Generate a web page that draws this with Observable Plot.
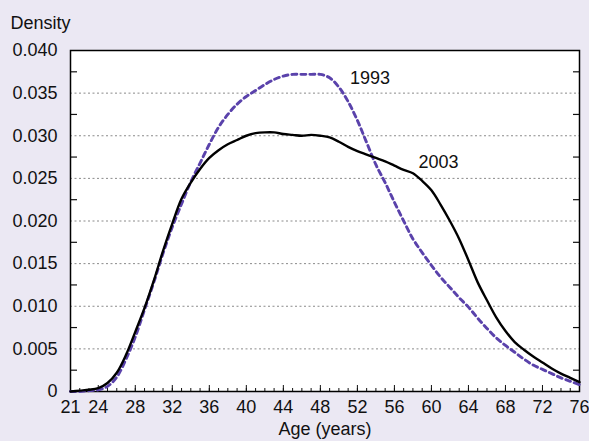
<!DOCTYPE html>
<html>
<head>
<meta charset="utf-8">
<script src="https://cdn.jsdelivr.net/npm/d3@7"></script>
<script src="https://cdn.jsdelivr.net/npm/@observablehq/plot@0.6"></script>
<style>
  html, body { margin: 0; padding: 0; background: #ebe8f3; }
</style>
</head>
<body>
<div id="chart"></div>
<script>
const ages = [21,22,23,24,25,26,27,28,29,30,31,32,33,34,35,36,37,38,39,40,41,42,43,44,45,46,47,48,
  49,50,51,52,53,54,55,56,57,58,59,60,61,62,63,64,65,66,67,68,69,70,71,72,73,74,75,76];

const density1993 = [0,0,0.0001,0.0002,0.0006,0.0017,0.0038,0.0064,0.0096,0.0128,0.0162,0.0193,0.0220,0.0246,
  0.0268,0.0290,0.0310,0.0325,0.0337,0.0346,0.0353,0.0360,0.0366,0.0370,0.0372,0.0372,0.0372,0.0372,
  0.0368,0.0357,0.0340,0.0318,0.0292,0.0266,0.0245,0.0222,0.0200,0.0179,0.0163,0.0148,0.0134,0.0122,
  0.0110,0.0099,0.0086,0.0074,0.0063,0.0054,0.0046,0.0038,0.0031,0.0026,0.0021,0.0016,0.0012,0.0008];

const density2003 = [0,0.0001,0.0002,0.0004,0.0010,0.0022,0.0043,0.0070,0.0098,0.0130,0.0165,0.0197,0.0226,0.0245,
  0.0261,0.0274,0.0283,0.0290,0.0295,0.0300,0.0303,0.0304,0.0304,0.0302,0.0301,0.0300,0.0301,0.0300,
  0.0298,0.0293,0.0287,0.0282,0.0278,0.0274,0.0270,0.0265,0.0260,0.0256,0.0247,0.0236,0.0219,0.0200,
  0.0179,0.0154,0.0128,0.0107,0.0087,0.0071,0.0058,0.0049,0.0041,0.0034,0.0027,0.0021,0.0016,0.0011];

const xTickLabels = [21,24,28,32,36,40,44,48,52,56,60,64,68,72,76];
const yTickLabels = [0,0.005,0.010,0.015,0.020,0.025,0.030,0.035,0.040];
const yGridValues = [0.005,0.010,0.015,0.020,0.025,0.030,0.035];
const yMinorTicks = [0.0025,0.0075,0.0125,0.0175,0.0225,0.0275,0.0325,0.0375];

const seriesLabels = [
  {label: "1993", age: 51.2, value: 0.0367},
  {label: "2003", age: 58.6, value: 0.0269}
];

const s1993 = ages.map((a, i) => ({age: a, value: density1993[i]}));
const s2003 = ages.map((a, i) => ({age: a, value: density2003[i]}));

const fmtY = d => d === 0 ? "0" : d3.format(".3f")(d);

const chart = Plot.plot({
  width: 589,
  height: 441,
  marginTop: 50,
  marginRight: 10,
  marginBottom: 50,
  marginLeft: 70,
  style: {background: "#ebe8f3", fontFamily: "'Liberation Sans', Arial, Helvetica, sans-serif", fontSize: "18px", color: "#111"},
  x: {domain: [21, 76]},
  y: {domain: [0, 0.04]},
  marks: [
    Plot.frame({fill: "white", stroke: "none"}),
    Plot.gridY(yGridValues, {stroke: "#8a8a8a", strokeOpacity: 1, strokeDasharray: "2,2.5", strokeWidth: 1}),
    Plot.axisY(yMinorTicks, {anchor: "left", tickSize: -7, tickFormat: () => "", label: null, strokeWidth: 1.2}),
    Plot.axisY(yMinorTicks, {anchor: "right", tickSize: -7, tickFormat: () => "", label: null, strokeWidth: 1.2}),
    Plot.axisY(yTickLabels, {anchor: "left", tickSize: 0, tickPadding: 13, tickFormat: fmtY, label: null}),
    Plot.axisX(ages, {anchor: "bottom", tickSize: -3, tickFormat: () => "", label: null}),
    Plot.axisX(xTickLabels, {anchor: "bottom", tickSize: -6, tickFormat: () => "", label: null}),
    Plot.axisX(xTickLabels, {anchor: "bottom", tickSize: 0, tickPadding: 9, tickFormat: d => String(d), label: null}),
    Plot.frame({stroke: "black", strokeWidth: 1.5}),
    Plot.line(s1993, {x: "age", y: "value", stroke: "#5a42ab", strokeWidth: 2.9, strokeDasharray: "5,4", curve: "catmull-rom"}),
    Plot.line(s2003, {x: "age", y: "value", stroke: "black", strokeWidth: 2.4, curve: "catmull-rom"}),
    Plot.text(seriesLabels, {x: "age", y: "value", text: "label", textAnchor: "start", fill: "#111"}),
    Plot.text(["Density"], {frameAnchor: "top-left", dx: -60, dy: -34, textAnchor: "start", fill: "#111"}),
    Plot.text(["Age (years)"], {frameAnchor: "bottom", dy: 43, fill: "#111"})
  ]
});
document.getElementById("chart").appendChild(chart);
</script>
</body>
</html>
